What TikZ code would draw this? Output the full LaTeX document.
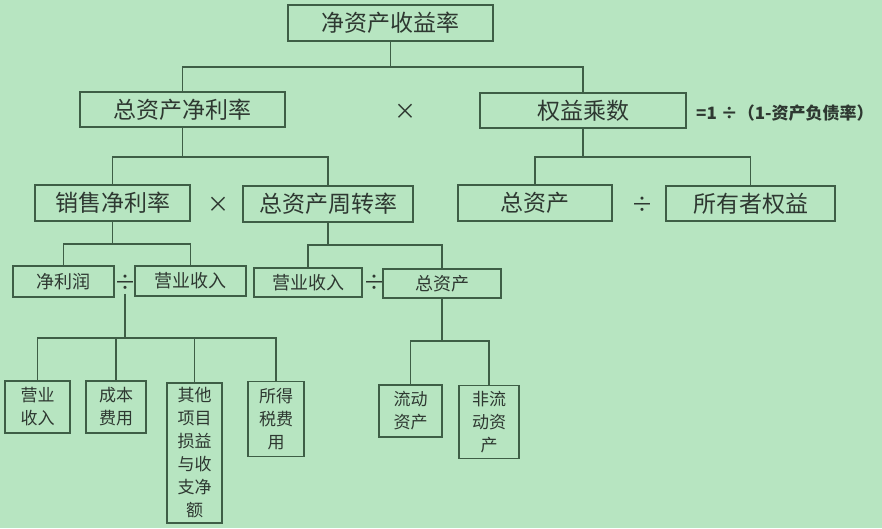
\documentclass[tikz,border=0pt]{standalone}
\usepackage{fontspec}
\setmainfont{Noto Sans CJK SC}

\definecolor{bgc}{HTML}{B7E5C1}
\definecolor{linec}{HTML}{3E5E46}
\definecolor{textc}{HTML}{2E3831}

\tikzset{
    box/.style={draw=linec, line width=1.5pt, inner sep=0pt, text=textc, align=center},
    bigbox/.style={box, font=\fontsize{23}{23}\selectfont},
    midbox/.style={box, font=\fontsize{18}{18}\selectfont},
    smallbox/.style={box, font=\fontsize{17}{23}\selectfont},
    conn/.style={draw=linec, line width=1.5pt},
    op/.style={text=textc, inner sep=3pt, font=\fontsize{22}{22}\selectfont},
}

\begin{document}
\begin{tikzpicture}[x=1pt, y=-1pt]

    % 背景
    \fill[bgc] (0,0) rectangle (882,528);
    \useasboundingbox (0,0) rectangle (882,528);

    % 第1层
    \node[bigbox, minimum width=205, minimum height=36] (roe) at (390.5,23) {净资产收益率};

    % 第2层
    \node[bigbox, minimum width=205, minimum height=35] (roa) at (182.5,109.5) {总资产净利率};
    \node[op] (mul1) at (405,112) {×};
    \node[bigbox, minimum width=206, minimum height=35] (em) at (583,110.5) {权益乘数};
    \node[right, inner sep=0pt, text=textc, font=\bfseries\fontsize{17}{17}\selectfont] (emnote) at (696,113) {=1 ÷（1-资产负债率）};

    % 第3层
    \node[bigbox, minimum width=155, minimum height=36] (npm) at (112.5,203) {销售净利率};
    \node[op] (mul2) at (218,205) {×};
    \node[bigbox, minimum width=170, minimum height=36] (tat) at (328,204) {总资产周转率};
    \node[bigbox, minimum width=154, minimum height=36] (ta1) at (535,203) {总资产};
    \node[op] (div1) at (642,205) {÷};
    \node[bigbox, minimum width=169, minimum height=35] (oe) at (750.5,203.5) {所有者权益};

    % 第4层
    \node[midbox, minimum width=101, minimum height=31] (np) at (63.5,281.5) {净利润};
    \node[op] (div2) at (125,283) {÷};
    \node[midbox, minimum width=111, minimum height=30] (rev1) at (190.5,281) {营业收入};
    \node[midbox, minimum width=108, minimum height=29] (rev2) at (308,282.5) {营业收入};
    \node[op] (div3) at (374,283) {÷};
    \node[midbox, minimum width=118, minimum height=29] (ta2) at (442,283.5) {总资产};

    % 第5层
    \node[smallbox, minimum width=65, minimum height=52] (s1) at (37.5,407) {营业\\收入};
    \node[smallbox, minimum width=60, minimum height=52] (s2) at (116,407) {成本\\费用};
    \node[smallbox, minimum width=55, minimum height=140] (s3) at (194.5,453) {其他\\项目\\损益\\与收\\支净\\额};
    \node[smallbox, minimum width=56, minimum height=75] (s4) at (276,419) {所得\\税费\\用};
    \node[smallbox, minimum width=63, minimum height=52] (c1) at (410.5,411) {流动\\资产};
    \node[smallbox, minimum width=60, minimum height=73] (c2) at (489,422) {非流\\动资\\产};

    % 分支点
    \coordinate (j1) at (roe.south |- 0,67);
    \coordinate (j2) at (roa.south |- 0,157);
    \coordinate (j3) at (em.south |- 0,157);
    \coordinate (j4) at (npm.south |- 0,244);
    \coordinate (j5) at (tat.south |- 0,245);
    \coordinate (j6) at (div2.south |- 0,338);
    \coordinate (j7) at (ta2.south |- 0,341);

    % 连线
    \draw[conn] (roe.south) -- (j1);
    \draw[conn] (roa.north) |- (j1) -| (em.north);
    \draw[conn] (roa.south) -- (j2);
    \draw[conn] (npm.north) |- (j2) -| (tat.north);
    \draw[conn] (em.south) -- (j3);
    \draw[conn] (ta1.north) |- (j3) -| (oe.north);
    \draw[conn] (npm.south) -- (j4);
    \draw[conn] (np.north) |- (j4) -| (rev1.north);
    \draw[conn] (tat.south) -- (j5);
    \draw[conn] (rev2.north) |- (j5) -| (ta2.north);
    \draw[conn] (div2.south) -- (j6);
    \draw[conn] (s1.north) |- (j6) -| (s4.north);
    \foreach \s in {s2,s3} {
        \draw[conn] (\s.north |- j6) -- (\s.north);
    }
    \draw[conn] (ta2.south) -- (j7);
    \draw[conn] (c1.north) |- (j7) -| (c2.north);

\end{tikzpicture}
\end{document}
